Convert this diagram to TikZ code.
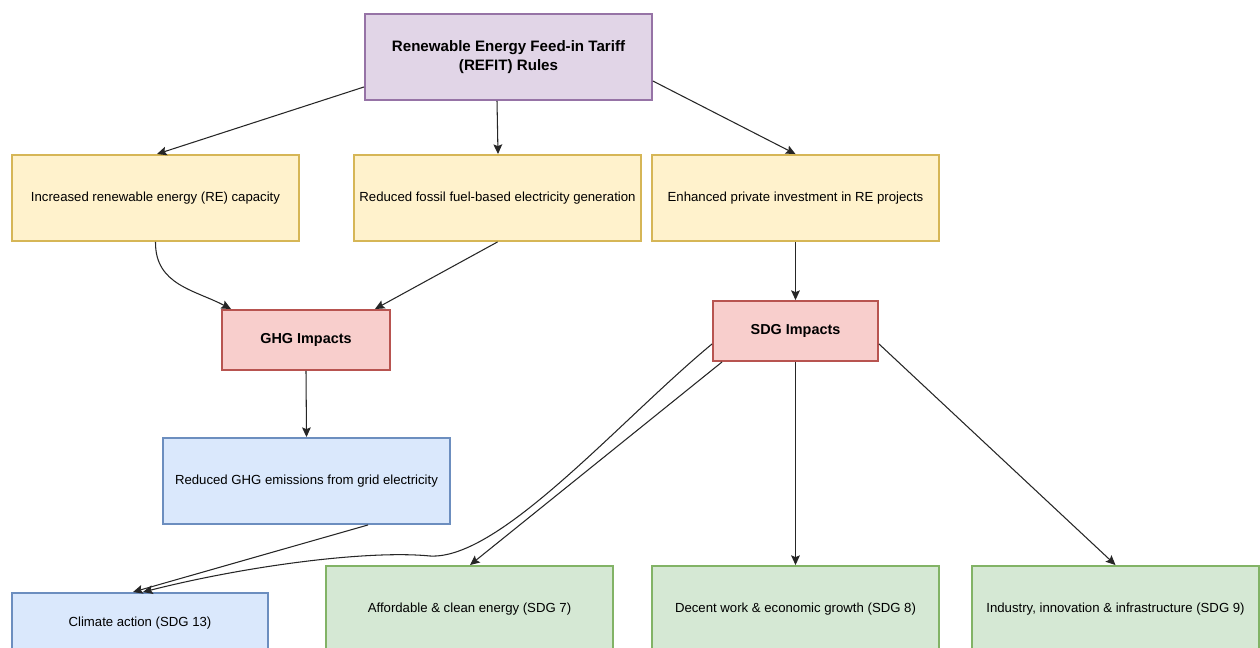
\documentclass[tikz,border=0pt]{standalone}
\usepackage{fontspec}
\setmainfont{Liberation Sans}
\usetikzlibrary{arrows.meta,calc}
\definecolor{pfill}{HTML}{E1D5E7}\definecolor{pline}{HTML}{9673A6}
\definecolor{yfill}{HTML}{FFF2CC}\definecolor{yline}{HTML}{D6B656}
\definecolor{rfill}{HTML}{F8CECC}\definecolor{rline}{HTML}{B85450}
\definecolor{bfill}{HTML}{DAE8FC}\definecolor{bline}{HTML}{6C8EBF}
\definecolor{gfill}{HTML}{D5E8D4}\definecolor{gline}{HTML}{82B366}
\tikzset{
  box/.style={rectangle, line width=1.1pt, inner sep=0pt, align=center,
    font=\fontsize{7.5}{9}\selectfont},
  wide/.style={minimum width=5.74cm, minimum height=1.72cm},
  purplebox/.style={box, wide, fill=pfill, draw=pline, font=\bfseries\fontsize{8.6}{10.8}\selectfont},
  yellowbox/.style={box, wide, fill=yfill, draw=yline},
  redbox/.style={box, fill=rfill, draw=rline, minimum height=1.2cm, font=\bfseries\fontsize{8.2}{9.8}\selectfont},
  bluebox/.style={box, fill=bfill, draw=bline},
  greenbox/.style={box, wide, fill=gfill, draw=gline},
  conn/.style={draw=black!85, line width=0.6pt, -{Stealth[length=5.5pt,width=5pt,inset=1pt]}},
}
\begin{document}
\begin{tikzpicture}[x=0.02cm,y=-0.02cm]
\useasboundingbox (0,0) rectangle (1260,648);
\fill[white] (0,0) rectangle (1260,648);
\clip (0,0) rectangle (1260,648);
\node[purplebox] (refit) at (508.5,57) {Renewable Energy Feed-in Tariff\\(REFIT) Rules};
\node[yellowbox] (recap) at (155.5,198) {Increased renewable energy (RE) capacity};
\node[yellowbox] (fossil) at (497.5,198) {Reduced fossil fuel-based electricity generation};
\node[yellowbox] (invest) at (795.5,198) {Enhanced private investment in RE projects};
\node[redbox, minimum width=3.36cm] (ghg) at (306,340) {GHG Impacts};
\node[redbox, minimum width=3.3cm] (sdg) at (795.5,331) {SDG Impacts};
\node[bluebox, wide] (redghg) at (306.5,481) {Reduced GHG emissions from grid electricity};
\node[bluebox, minimum width=5.12cm, minimum height=1.2cm] (climate) at (140,623) {Climate action (SDG 13)};
\node[greenbox] (afford) at (469.5,609) {Affordable \& clean energy (SDG 7)};
\node[greenbox] (decent) at (795.5,609) {Decent work \& economic growth (SDG 8)};
\node[greenbox] (industry) at (1115.5,609) {Industry, innovation \& infrastructure (SDG 9)};

\draw[conn] ($(refit.south west)+(0,-14)$) -- ($(recap.north)+(1.5,0)$);
\draw[conn] ($(refit.south)+(-11.5,0)$) -- ($(fossil.north)+(0.5,0)$);
\draw[conn] ($(refit.north east)+(0,68)$) -- (invest.north);
\draw[conn] (recap.south) .. controls (155,285) and (195,290) .. ($(ghg.north west)+(10,0)$);
\draw[conn] (fossil.south) -- ($(ghg.north east)+(-16,0)$);
\draw[conn] (invest.south) -- (sdg.north);
\draw[conn] (ghg.south) -- (redghg.north);
\draw[conn] ($(redghg.south)+(61.5,0)$) -- ($(climate.north)+(-7,0)$);
\draw[conn] ($(sdg.south west)+(0,-18)$) .. controls (620,420) and (500,560) .. (430,556)
   .. controls (370,550) and (250,565) .. ($(climate.north)+(3,0)$);
\draw[conn] ($(sdg.south west)+(10,0)$) -- ($(afford.north)+(0.5,0)$);
\draw[conn] (sdg.south) -- (decent.north);
\draw[conn] ($(sdg.south east)+(0,-18)$) -- ($(industry.north)+(0,0)$);
\end{tikzpicture}
\end{document}
